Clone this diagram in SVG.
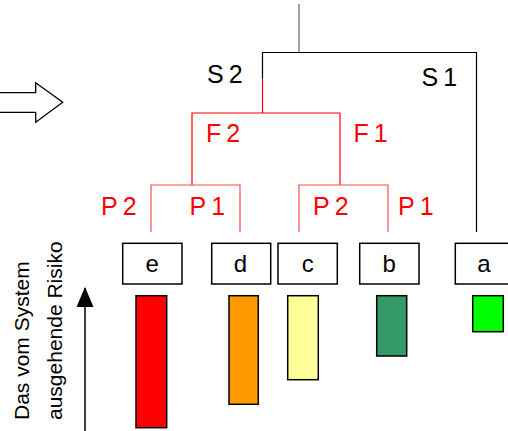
<svg xmlns="http://www.w3.org/2000/svg" width="508" height="431" viewBox="0 0 508 431">
<style>
.lbl{font-family:"Liberation Sans",Arial,sans-serif;font-size:25px;letter-spacing:5px}
.blk{fill:#000}
.red{fill:#ff0000}
.box{fill:#fff;stroke:#000;stroke-width:1.5}
.bar{stroke:#000;stroke-width:1.5}
.boxt{font-family:"Liberation Sans",Arial,sans-serif;font-size:24px;text-anchor:middle;fill:#000}
.axis{font-family:"Liberation Sans",Arial,sans-serif;font-size:21px;fill:#000}
.ln{fill:none;stroke-width:1.2}
</style>
<defs>
<marker id="ah2" markerWidth="20" markerHeight="18" refX="19" refY="8.5" orient="auto" markerUnits="userSpaceOnUse" viewBox="0 0 20 17">
<path d="M0,0 L20,8.5 L0,17 Z" fill="#000"/>
</marker>
</defs>
<g id="block-arrow">
<polygon points="-5,92.7 35.7,92.7 35.7,82.7 62.7,102.3 35.7,122.3 35.7,112.3 -5,112.3" fill="#fff" stroke="#000" stroke-width="1.3"/>
</g>
<g id="connectors">
<path class="ln" stroke="#666" d="M299,4 V52.5"/>
<path class="ln" stroke="#000" d="M262.5,78 V52.5 H476.5 V232"/>
<path class="ln" stroke="#ff0000" d="M262.5,78 V113"/>
<path class="ln" stroke="#ff0000" d="M192,185 V113 H340 V185"/>
<path class="ln" stroke="#ff4d4d" d="M151,232 V185 H240 V232"/>
<path class="ln" stroke="#ff4d4d" d="M299,232 V185 H388 V232"/>
<path fill="none" stroke="#000" stroke-width="1.5" d="M85,431 V288" marker-end="url(#ah2)"/>
</g>
<g id="labels">
<text class="lbl blk" x="207" y="83">S2</text>
<text class="lbl blk" x="421.5" y="86">S1</text>
<text class="lbl red" x="206" y="142">F2</text>
<text class="lbl red" x="353.5" y="142">F1</text>
<text class="lbl red" x="101" y="215">P2</text>
<text class="lbl red" x="189.5" y="215">P1</text>
<text class="lbl red" x="313" y="215">P2</text>
<text class="lbl red" x="398" y="215">P1</text>
</g>
<g id="node-e">
<rect class="box" x="122.7" y="243.3" width="59.3" height="40.7"/>
<text class="boxt" x="152.3" y="272">e</text>
</g>
<g id="node-d">
<rect class="box" x="211.7" y="243.3" width="59" height="40.7"/>
<text class="boxt" x="240.5" y="272">d</text>
</g>
<g id="node-c">
<rect class="box" x="278" y="243.3" width="59.3" height="40.7"/>
<text class="boxt" x="307.7" y="272">c</text>
</g>
<g id="node-b">
<rect class="box" x="359.7" y="243.3" width="59.3" height="40.7"/>
<text class="boxt" x="389.3" y="272">b</text>
</g>
<g id="node-a">
<rect class="box" x="455.3" y="243.3" width="59.3" height="40.7"/>
<text class="boxt" x="484" y="272">a</text>
</g>
<g id="bars">
<rect class="bar" x="136" y="295.7" width="30.7" height="132" fill="#ff0000"/>
<rect class="bar" x="229" y="295.7" width="29.3" height="108.6" fill="#ff9900"/>
<rect class="bar" x="287.7" y="295.7" width="30.6" height="84" fill="#ffff99"/>
<rect class="bar" x="376.7" y="295.7" width="30" height="60.3" fill="#339966"/>
<rect class="bar" x="472.7" y="295.7" width="30.6" height="36" fill="#00ff00"/>
</g>
<g id="axis-label">
<text class="axis" transform="translate(29.3,420) rotate(-90)">Das vom System</text>
<text class="axis" transform="translate(62,420) rotate(-90)">ausgehende Risiko</text>
</g>
</svg>
